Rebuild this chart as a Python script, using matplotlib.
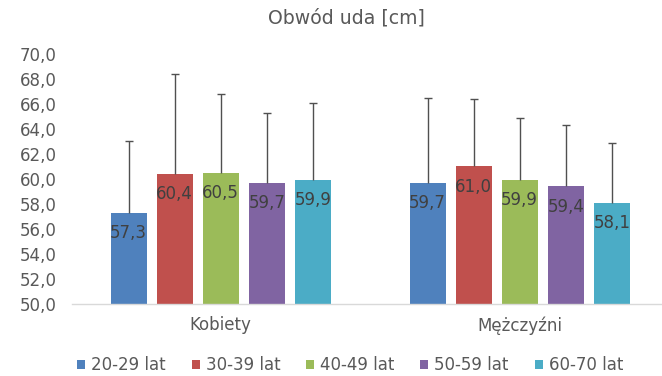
import numpy as np
import matplotlib.pyplot as plt

# dane
grupy = ["Kobiety", "Mężczyźni"]
serie = ["20-29 lat", "30-39 lat", "40-49 lat", "50-59 lat", "60-70 lat"]
kobiety = [57.3, 60.4, 60.5, 59.7, 59.9]
mezczyzni = [59.7, 61.0, 59.9, 59.4, 58.1]
sd_kobiety = [5.7, 8.0, 6.3, 5.6, 6.2]
sd_mezczyzni = [6.8, 5.4, 5.0, 4.9, 4.8]
kolory = ["#4F81BD", "#C0504D", "#9BBB59", "#8064A2", "#4BACC6"]
yticks = np.arange(50, 71, 2)

plt.rcParams['font.family'] = ['DejaVu Sans']

fig = plt.figure(figsize=(6.62, 3.76), dpi=100)
ax = fig.add_axes([0.1088, 0.1915, 0.8912, 0.6649])

x = np.arange(len(grupy))
szer = 0.1206
krok = 0.154

for i, nazwa in enumerate(serie):
    pos = x + (i - 2) * krok
    vals = np.array([kobiety[i], mezczyzni[i]])
    err = np.array([sd_kobiety[i], sd_mezczyzni[i]])
    ax.bar(pos, vals, width=szer, color=kolory[i], label=nazwa, zorder=2)
    # tylko górna część słupka błędu
    ax.vlines(pos, vals, vals + err, color='#505050', lw=1, zorder=3)
    ax.plot(pos, vals + err, ls='none', marker='_', ms=6, mew=1,
            color='#505050', zorder=3)
    for p, v in zip(pos, vals):
        ax.annotate(f"{v:.1f}".replace('.', ','), (p, v), xytext=(0, -14.5),
                    textcoords='offset points', ha='center', va='center',
                    fontsize=12, color='#404040', zorder=4)

ax.set_xlim(-0.497, 1.476)
ax.set_ylim(50, 70)
ax.set_yticks(yticks)
ax.set_yticklabels([f"{v:.1f}".replace('.', ',') for v in yticks],
                   fontsize=12, color='#595959')
ax.set_xticks(x)
ax.set_xticklabels(grupy, fontsize=12, color='#595959')
ax.tick_params(axis='both', length=0)
ax.tick_params(axis='x', pad=9)
ax.tick_params(axis='y', pad=11)
for s in ['top', 'right', 'left']:
    ax.spines[s].set_visible(False)
ax.spines['bottom'].set_color('#D9D9D9')
ax.spines['bottom'].set_linewidth(1)

fig.text(0.5234, 0.952, "Obwód uda [cm]", ha='center', va='center',
         fontsize=13.6, color='#595959')

fig.legend(loc='center', bbox_to_anchor=(0.529, 0.029), ncol=5, frameon=False,
           fontsize=12, labelcolor='#595959', handlelength=0.48,
           handleheight=0.48, handletextpad=0.36, columnspacing=1.55)

fig.savefig("out.png", dpi=100)
